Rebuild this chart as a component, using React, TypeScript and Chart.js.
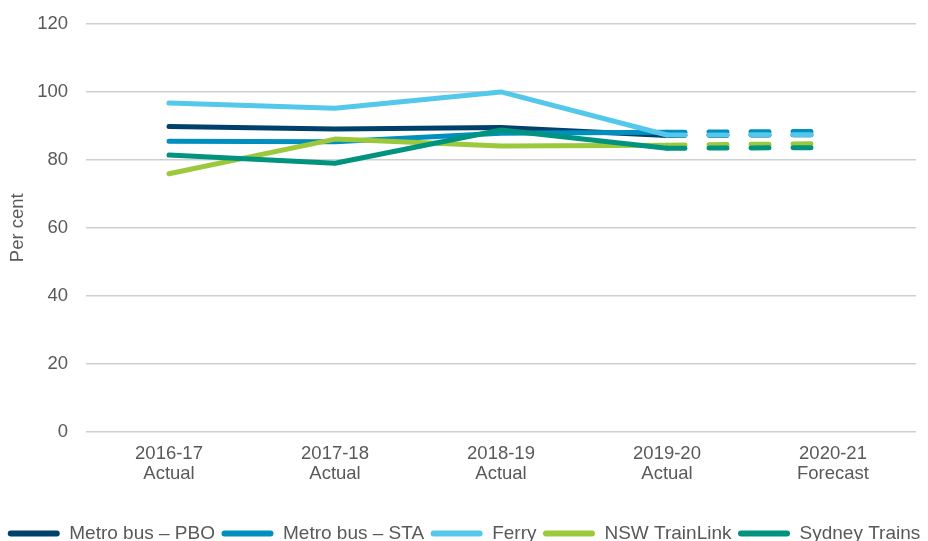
import React, { useEffect, useRef } from "react";
import { Chart, registerables } from "chart.js";

Chart.register(...registerables);

const categories: string[][] = [
  ["2016-17", "Actual"],
  ["2017-18", "Actual"],
  ["2018-19", "Actual"],
  ["2019-20", "Actual"],
  ["2020-21", "Forecast"],
];

const metroBusPBO = [89.8, 89.1, 89.5, 87.2, 87.4];
const metroBusSTA = [85.5, 85.3, 87.8, 88.1, 88.4];
const ferry = [96.7, 95.2, 100.0, 87.3, 87.4];
const nswTrainLink = [75.9, 86.1, 84.1, 84.3, 84.8];
const sydneyTrains = [81.4, 79.0, 88.8, 83.4, 83.6];

const seriesNames = [
  "Metro bus \u2013 PBO",
  "Metro bus \u2013 STA",
  "Ferry",
  "NSW TrainLink",
  "Sydney Trains",
];
const seriesColors = ["#00416B", "#008FBF", "#54C8EA", "#9CC83C", "#00937F"];
const seriesValues = [metroBusPBO, metroBusSTA, ferry, nswTrainLink, sydneyTrains];

const yMin = 0;
const yMax = 120;
const yStep = 20;
const forecastFromIndex = 3;

const FONT = "'Liberation Sans', Arial, sans-serif";
const TEXT = "#595959";

export default function App() {
  const ref = useRef<HTMLCanvasElement | null>(null);

  useEffect(() => {
    if (!ref.current) return;
    const chart = new Chart(ref.current, {
      type: "line",
      data: {
        labels: categories,
        datasets: seriesValues.map((vals, i) => ({
          label: seriesNames[i],
          data: vals,
          yAxisID: "y",
          borderColor: seriesColors[i],
          backgroundColor: seriesColors[i],
          borderWidth: 5,
          borderCapStyle: "round" as const,
          borderJoinStyle: "round" as const,
          pointRadius: 0,
          pointHoverRadius: 0,
          tension: 0,
          fill: false,
          order: seriesValues.length - i,
          segment: {
            borderDash: (ctx: any) =>
              ctx.p0DataIndex >= forecastFromIndex ? [18, 24] : undefined,
          },
        })),
      },
      options: {
        animation: false,
        responsive: true,
        maintainAspectRatio: false,
        layout: { padding: { top: 24, right: 0, left: 0, bottom: 0 } },
        plugins: {
          tooltip: { enabled: false },
          legend: {
            position: "bottom",
            labels: {
              font: { family: FONT, size: 19 },
              color: TEXT,
              boxWidth: 52,
              boxHeight: 6,
              padding: 6.5,
              useBorderRadius: true,
              borderRadius: 3,
              sort: (a: any, b: any) => a.datasetIndex - b.datasetIndex,
              generateLabels: (c: any) =>
                Chart.defaults.plugins.legend.labels
                  .generateLabels(c)
                  .map((l: any) => ({ ...l, lineWidth: 0, lineDash: [] })),
            },
          },
        },
        scales: {
          x: {
            type: "category",
            offset: true,
            grid: { display: false, drawTicks: false },
            border: { display: false },
            ticks: {
              font: { family: FONT, size: 18.5, lineHeight: 1.08 },
              color: TEXT,
              padding: 12,
              maxRotation: 0,
              autoSkip: false,
            },
            afterFit: (s: any) => {
              s.height = 86;
            },
          },
          y: {
            min: yMin,
            max: yMax,
            ticks: {
              stepSize: yStep,
              font: { family: FONT, size: 18.5 },
              color: TEXT,
              padding: 18,
            },
            grid: { color: "#cfcfcf", lineWidth: 1.5, drawTicks: false },
            border: { display: false },
            title: {
              display: true,
              text: "Per cent",
              font: { family: FONT, size: 18.5 },
              color: TEXT,
              padding: { top: 7, bottom: 4 },
            },
            afterFit: (s: any) => {
              s.width = 86;
              s.paddingTop = 0;
              s.paddingBottom = 0;
            },
          },
          yRight: {
            type: "linear",
            position: "right",
            grid: { display: false, drawTicks: false },
            border: { display: false },
            ticks: { display: false },
            afterFit: (s: any) => {
              s.width = 12;
              s.paddingTop = 0;
              s.paddingBottom = 0;
            },
          },
        },
      },
    });
    return () => chart.destroy();
  }, []);

  return (
    <div
      style={{
        position: "fixed",
        left: 0,
        top: 0,
        width: 928,
        height: 541,
        overflow: "hidden",
        background: "#ffffff",
      }}
    >
      <div style={{ position: "relative", width: 928, height: 553 }}>
        <canvas ref={ref} />
      </div>
    </div>
  );
}
